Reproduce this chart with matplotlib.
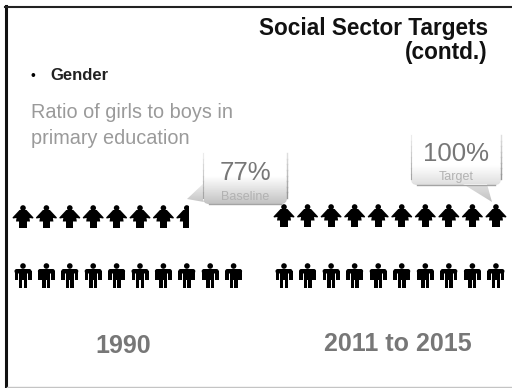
import numpy as np
import matplotlib
matplotlib.use("Agg")
import matplotlib.pyplot as plt
from matplotlib.patches import Polygon, Circle, FancyBboxPatch, Rectangle, PathPatch
from matplotlib.path import Path

plt.rcParams['font.family'] = ['Liberation Sans', 'DejaVu Sans']

# Figures shown on the slide
years = ["1990", "2011 to 2015"]
girl_ratio = [77, 100]
callout_notes = ["Baseline", "Target"]
icons_per_row = 10

fig = plt.figure(figsize=(5.12, 3.88), dpi=100, facecolor="white")
ax = fig.add_axes([0, 0, 1, 1])
ax.set_xlim(0, 512)
ax.set_ylim(388, 0)
ax.axis("off")

# Slide frame
ax.plot([6, 6], [6, 388], color="#111111", lw=2.2)
ax.plot([5, 512], [7, 7], color="#222222", lw=1.5)
ax.plot([7, 512], [387, 387], color="#c4c4c4", lw=1.0)


def girl(cx, top, fill_to=None):
    """Pictogram of a girl: head, triangular dress and legs."""
    parts = [
        Circle((cx, top + 3), 2.8, color="black", lw=0),
        Polygon([(cx - 3.5, top + 5), (cx + 3.5, top + 5), (cx + 10.5, top + 12.5),
                 (cx + 10, top + 13.5), (cx + 6.5, top + 13), (cx + 7, top + 16.5),
                 (cx - 7, top + 16.5), (cx - 6.5, top + 13),
                 (cx - 10, top + 13.5), (cx - 10.5, top + 12.5)], color="black", lw=0),
        Rectangle((cx - 3.6, top + 16), 7.2, 6.5, color="black", lw=0),
    ]
    for p in parts:
        ax.add_patch(p)
        if fill_to is not None:
            p.set_clip_path(Rectangle((cx - 12, top - 2), fill_to - cx + 12, 30,
                                      transform=ax.transData))


def boy(cx, top):
    """Pictogram of a boy: head, shoulders, arms and legs."""
    ax.add_patch(Circle((cx, top + 3), 2.8, color="black", lw=0))
    ax.add_patch(FancyBboxPatch((cx - 8.5, top + 6), 17, 4.5,
                                boxstyle="round,pad=0,rounding_size=2.2", color="black", lw=0))
    ax.add_patch(Rectangle((cx - 8.5, top + 8), 3.8, 8.5, color="black", lw=0))
    ax.add_patch(Rectangle((cx + 4.7, top + 8), 3.8, 8.5, color="black", lw=0))
    ax.add_patch(Rectangle((cx - 4.0, top + 8), 8.0, 9, color="black", lw=0))
    ax.add_patch(Rectangle((cx - 4.0, top + 16), 3.4, 9, color="black", lw=0))
    ax.add_patch(Rectangle((cx + 0.6, top + 16), 3.4, 9, color="black", lw=0))


# Two pictogram panels, one per period
group_x = [23.0, 284.0]
step = [23.4, 23.55]
girl_top = [205, 204]
for x0, dx, share, top in zip(group_x, step, girl_ratio, girl_top):
    for i in range(icons_per_row):
        cx = x0 + i * dx
        filled = share / 100 * icons_per_row - i
        if filled >= 1:
            girl(cx, top)
        elif filled > 0:
            girl(cx, top, fill_to=cx + 2)
        boy(cx, 263)


def callout(x0, y0, x1, y1, tail):
    """Rounded speech bubble with a tail, white at the top and grey at the foot."""
    r = 6
    outline = FancyBboxPatch((x0, y0), x1 - x0, y1 - y0, boxstyle=f"round,pad=0,rounding_size={r}",
                             facecolor="none", edgecolor="none")
    body_path = outline.get_path().transformed(outline.get_patch_transform())
    tail_path = Path(list(tail) + [tail[0]], [Path.MOVETO] + [Path.LINETO] * (len(tail) - 1) + [Path.CLOSEPOLY])
    clip = PathPatch(Path.make_compound_path(body_path, tail_path), facecolor="none", edgecolor="none")
    ax.add_patch(clip)
    shade = np.interp(np.linspace(0, 1, 64), [0, 0.45, 1], [1.0, 1.0, 0.76]).reshape(-1, 1)
    lo = max(y1, max(p[1] for p in tail))
    left = min(x0, min(p[0] for p in tail))
    right = max(x1, max(p[0] for p in tail))
    im = ax.imshow(shade, cmap="gray", vmin=0, vmax=1, aspect="auto",
                   extent=(left, right, lo, y0), zorder=2)
    im.set_clip_path(clip)
    # Edges fade out towards the top of the bubble
    for k in range(8):
        ya = y0 + k * (y1 - r - y0) / 8
        yb = y0 + (k + 1) * (y1 - r - y0) / 8
        tone = 0.92 - 0.27 * k / 7
        ax.plot([x0, x0], [ya, yb], color=str(tone), lw=0.8, zorder=3)
        ax.plot([x1, x1], [ya, yb], color=str(tone - 0.05), lw=1.0, zorder=3)
    ax.plot([x0 + r, x1 - r], [y1, y1], color="#a4a4a4", lw=1.0, zorder=3)


callout(203, 153, 287, 204, [(204, 183), (187, 199), (204, 202)])
callout(411, 135, 501, 185, [(463, 184), (492, 202), (487, 184)])
ax.set_xlim(0, 512)
ax.set_ylim(388, 0)

ax.text(245, 173, f"{girl_ratio[0]}%", ha="center", va="center", fontsize=18.5, color="#777777", zorder=4)
ax.text(245, 197, callout_notes[0], ha="center", va="center", fontsize=9, color="#b2b2b2", zorder=4)
ax.text(456, 154, f"{girl_ratio[1]}%", ha="center", va="center", fontsize=18.5, color="#777777", zorder=4)
ax.text(456, 177, callout_notes[1], ha="center", va="center", fontsize=9, color="#b2b2b2", zorder=4)

# Heading and body text
ax.text(488, 29, "Social Sector Targets", ha="right", va="center", fontsize=16.3, fontweight="bold", color="#111111")
ax.text(488, 52, "(contd.)", ha="right", va="center", fontsize=16.3, fontweight="bold", color="#111111")
ax.text(33, 76, "•", ha="center", va="center", fontsize=10, color="black")
ax.text(50, 76, "Gender", ha="left", va="center", fontsize=12, fontweight="bold", color="#222222")
ax.text(31, 113, "Ratio of girls to boys in", ha="left", va="center", fontsize=14.3, color="#9a9a9a")
ax.text(31, 138, "primary education", ha="left", va="center", fontsize=14.3, color="#9a9a9a")

ax.text(123, 346, years[0], ha="center", va="center", fontsize=18, fontweight="bold", color="#777777")
ax.text(398, 344, years[1], ha="center", va="center", fontsize=18, fontweight="bold", color="#777777")

fig.savefig("out.png", dpi=100)
